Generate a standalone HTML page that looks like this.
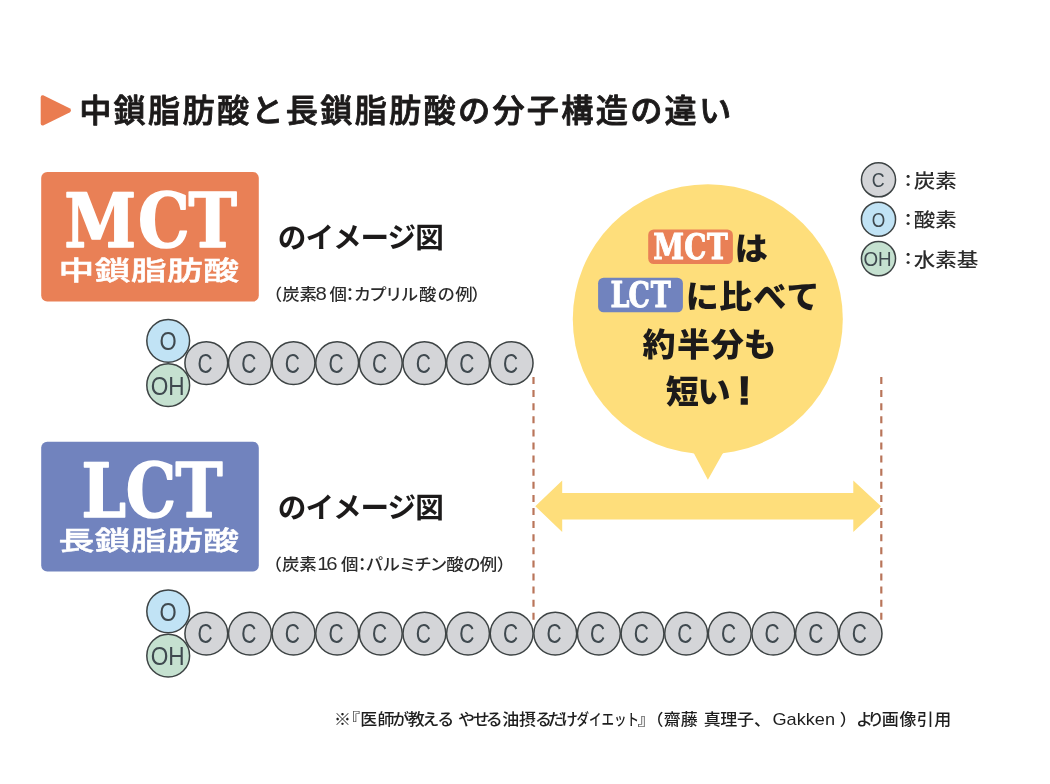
<!DOCTYPE html>
<html lang="ja">
<head>
<meta charset="utf-8">
<title>中鎖脂肪酸と長鎖脂肪酸の分子構造の違い</title>
<style>
html,body{margin:0;padding:0;background:#fff;}
body{width:1050px;height:784px;overflow:hidden;}
svg{display:block;will-change:transform;}
text{font-family:"Liberation Sans","Noto Sans CJK JP",sans-serif;fill:#1c1a1a;}
.ser{font-family:"DejaVu Serif","Liberation Serif",serif;font-weight:bold;fill:#fff;stroke:#fff;stroke-width:1.6px;stroke-linejoin:round;}
.b{font-weight:bold;}
.m{font-weight:500;stroke:#fff;stroke-width:0.5px;}
.sb{font-weight:500;stroke:#1c1a1a;stroke-width:0.85px;stroke-linejoin:round;}
.k{font-weight:900;}
.w{fill:#fff;}
.dg{font-size:19px;font-weight:400;}
.cap{font-feature-settings:"halt";fill:#2b2b2b;font-weight:500;}
.atom{stroke:#3d4344;stroke-width:1.5;}
.c{fill:#d4d5d8;}
.o{fill:#c1e3f5;}
.oh{fill:#c5e1d0;}
.al{fill:#3f494f;}
.leg{fill:#2b2b2b;font-feature-settings:"halt";font-weight:500;}
.foot{fill:#1e1e1e;font-weight:500;}
</style>
</head>
<body>
<svg width="1050" height="784" viewBox="0 0 1050 784">
<rect width="1050" height="784" fill="#fff"/>

<!-- title -->
<path d="M43.2 95.3 L69.6 108.2 Q72.4 110.3 69.6 112.5 L43.2 125.5 Q40.7 126.1 40.7 123.2 L40.7 97.6 Q40.7 94.7 43.2 95.3Z" fill="#ea7c50"/>
<text x="79.20" y="122.10" font-size="32.2" class="sb" letter-spacing="2.25">中鎖脂肪酸と長鎖脂肪酸の分子構造の違い</text>
<!-- bubble -->
<circle cx="707.8" cy="319.2" r="135" fill="#fede7b"/>
<path d="M690 450 L694 453.5 L707.9 479.7 L722.4 454 L726 450 Z" fill="#fede7b"/>
<path d="M535.3 506.2 L562.2 480.4 L562.2 492.9 L853.3 492.9 L853.3 480.4 L881 506.2 L853.3 532 L853.3 519.6 L562.2 519.6 L562.2 532 Z" fill="#fede7b"/>
<line x1="533.5" y1="377" x2="533.5" y2="619.8" stroke="#b9755a" stroke-width="2.2" stroke-dasharray="7 6.1"/>
<line x1="881.3" y1="377" x2="881.3" y2="619.8" stroke="#b9755a" stroke-width="2.2" stroke-dasharray="7 6.1"/>
<rect x="648.2" y="229.5" width="84.7" height="34.5" rx="5.5" fill="#e98056"/>
<text transform="translate(653.30 258.60) scale(0.8055 1)" font-size="34.6" class="ser" style="stroke-width:1px" dx="0 0 1">MCT</text>
<text x="706.6" y="260.40" font-size="31.8" transform="scale(1.04 1)" class="k">は</text>
<rect x="598.1" y="277.7" width="84.8" height="34.6" rx="5.5" fill="#7183be"/>
<text transform="translate(610.60 306.60) scale(0.7785 1)" font-size="34.6" class="ser" style="stroke-width:1px" dx="0 -1.33 0.89">LCT</text>
<text x="659.4 691.4 724.3 756.3" y="308.20" font-size="31.8" transform="scale(1.04 1)" class="k">に比べて</text>
<text x="617.7 651.0 683.5 714.9" y="355.60" font-size="31.8" transform="scale(1.04 1)" class="k">約半分も</text>
<text x="640.2 670.7" y="402.60" font-size="31.8" transform="scale(1.04 1)" class="k">短い<tspan x="709.2" y="404" font-size="39.5" stroke="#1c1a1a" stroke-width="1.3">!</tspan></text>
<!-- legend -->
<circle class="atom c" cx="878.5" cy="179.8" r="17.05"/>
<text transform="translate(878.20 187.40) scale(0.8550 1)" font-size="20.9" class="al" text-anchor="middle">C</text>
<text class="leg" transform="translate(903.8 179.8) scale(1.135 1)"><tspan x="-0.5" y="6.8" font-size="17.4">：</tspan><tspan x="8.7" y="8.1" font-size="19">炭素</tspan></text>
<circle class="atom o" cx="878.5" cy="219.2" r="17.05"/>
<text transform="translate(878.40 226.80) scale(0.8300 1)" font-size="20.9" class="al" text-anchor="middle">O</text>
<text class="leg" transform="translate(903.8 219.2) scale(1.135 1)"><tspan x="-0.5" y="6.8" font-size="17.4">：</tspan><tspan x="8.7" y="8.1" font-size="19">酸素</tspan></text>
<circle class="atom oh" cx="878.5" cy="258.6" r="17.05"/>
<text transform="translate(877.60 266.20) scale(0.9000 1)" font-size="20.9" class="al" text-anchor="middle">OH</text>
<text class="leg" transform="translate(903.8 258.6) scale(1.135 1)"><tspan x="-0.5" y="6.8" font-size="17.4">：</tspan><tspan x="8.7" y="8.1" font-size="19">水素基</tspan></text>
<!-- 中鎖脂肪酸 -->
<rect x="41.2" y="171.9" width="217.6" height="129.7" rx="6" fill="#e98056"/>
<text transform="translate(64.20 246.60) scale(0.8775 1)" font-size="74.1" class="ser" dx="0 2.18 -1.46">MCT</text>
<text transform="translate(58.60 280.30) scale(1.3750 1)" font-size="26" class="m w" letter-spacing="0.3">中鎖脂肪酸</text>
<text x="277.80" y="247.60" font-size="28.6" class="b" letter-spacing="-1.0">のイメージ図</text>
<text x="255.6 263.8 279.8 295.5 307.9 322.9 330.7 345.0 359.8 374.6 391.6 409.0 425.4 440.4" y="300.20" font-size="16.3" transform="scale(1.07 1)" class="cap">（炭素<tspan class="dg" dx="-0.6">8</tspan>個：カプリル酸の例）</text>
<circle class="atom o" cx="168.20" cy="340.80" r="21.4"/>
<circle class="atom oh" cx="168.20" cy="385.20" r="21.4"/>
<circle class="atom c" cx="206.30" cy="363.10" r="21.4"/>
<circle class="atom c" cx="249.92" cy="363.10" r="21.4"/>
<circle class="atom c" cx="293.54" cy="363.10" r="21.4"/>
<circle class="atom c" cx="337.16" cy="363.10" r="21.4"/>
<circle class="atom c" cx="380.78" cy="363.10" r="21.4"/>
<circle class="atom c" cx="424.40" cy="363.10" r="21.4"/>
<circle class="atom c" cx="468.02" cy="363.10" r="21.4"/>
<circle class="atom c" cx="511.64" cy="363.10" r="21.4"/>
<text transform="translate(168.20 350.20) scale(0.8500 1)" font-size="26" class="al" text-anchor="middle">O</text>
<text transform="translate(167.70 394.60) scale(0.8700 1)" font-size="26" class="al" text-anchor="middle">OH</text>
<text transform="translate(205.10 372.70) scale(0.7700 1)" font-size="27.2" class="al" text-anchor="middle">C</text>
<text transform="translate(248.72 372.70) scale(0.7700 1)" font-size="27.2" class="al" text-anchor="middle">C</text>
<text transform="translate(292.34 372.70) scale(0.7700 1)" font-size="27.2" class="al" text-anchor="middle">C</text>
<text transform="translate(335.96 372.70) scale(0.7700 1)" font-size="27.2" class="al" text-anchor="middle">C</text>
<text transform="translate(379.58 372.70) scale(0.7700 1)" font-size="27.2" class="al" text-anchor="middle">C</text>
<text transform="translate(423.20 372.70) scale(0.7700 1)" font-size="27.2" class="al" text-anchor="middle">C</text>
<text transform="translate(466.82 372.70) scale(0.7700 1)" font-size="27.2" class="al" text-anchor="middle">C</text>
<text transform="translate(510.44 372.70) scale(0.7700 1)" font-size="27.2" class="al" text-anchor="middle">C</text>
<!-- 長鎖脂肪酸 -->
<rect x="41.2" y="441.7" width="217.6" height="129.7" rx="6" fill="#7183be"/>
<text transform="translate(81.60 517.20) scale(0.8550 1)" font-size="74.1" class="ser" dx="0 -0.44 -0.67">LCT</text>
<text transform="translate(58.60 550.30) scale(1.3750 1)" font-size="26" class="m w" letter-spacing="0.3">長鎖脂肪酸</text>
<text x="277.80" y="517.60" font-size="28.6" class="b" letter-spacing="-1.0">のイメージ図</text>
<text x="255.4 263.5 279.6 294.9 304.5 318.6 334.5 341.9 357.6 372.8 387.2 401.7 417.1 432.9 448.3 464.3" y="570.40" font-size="16.3" transform="scale(1.07 1)" class="cap">（炭素<tspan class="dg" dx="1.6 0.5">16</tspan>個：パルミチン酸の例）</text>
<circle class="atom o" cx="168.20" cy="611.30" r="21.4"/>
<circle class="atom oh" cx="168.20" cy="655.70" r="21.4"/>
<circle class="atom c" cx="206.30" cy="633.60" r="21.4"/>
<circle class="atom c" cx="249.92" cy="633.60" r="21.4"/>
<circle class="atom c" cx="293.54" cy="633.60" r="21.4"/>
<circle class="atom c" cx="337.16" cy="633.60" r="21.4"/>
<circle class="atom c" cx="380.78" cy="633.60" r="21.4"/>
<circle class="atom c" cx="424.40" cy="633.60" r="21.4"/>
<circle class="atom c" cx="468.02" cy="633.60" r="21.4"/>
<circle class="atom c" cx="511.64" cy="633.60" r="21.4"/>
<circle class="atom c" cx="555.26" cy="633.60" r="21.4"/>
<circle class="atom c" cx="598.88" cy="633.60" r="21.4"/>
<circle class="atom c" cx="642.50" cy="633.60" r="21.4"/>
<circle class="atom c" cx="686.12" cy="633.60" r="21.4"/>
<circle class="atom c" cx="729.74" cy="633.60" r="21.4"/>
<circle class="atom c" cx="773.36" cy="633.60" r="21.4"/>
<circle class="atom c" cx="816.98" cy="633.60" r="21.4"/>
<circle class="atom c" cx="860.60" cy="633.60" r="21.4"/>
<text transform="translate(168.20 620.70) scale(0.8500 1)" font-size="26" class="al" text-anchor="middle">O</text>
<text transform="translate(167.70 665.10) scale(0.8700 1)" font-size="26" class="al" text-anchor="middle">OH</text>
<text transform="translate(205.10 643.20) scale(0.7700 1)" font-size="27.2" class="al" text-anchor="middle">C</text>
<text transform="translate(248.72 643.20) scale(0.7700 1)" font-size="27.2" class="al" text-anchor="middle">C</text>
<text transform="translate(292.34 643.20) scale(0.7700 1)" font-size="27.2" class="al" text-anchor="middle">C</text>
<text transform="translate(335.96 643.20) scale(0.7700 1)" font-size="27.2" class="al" text-anchor="middle">C</text>
<text transform="translate(379.58 643.20) scale(0.7700 1)" font-size="27.2" class="al" text-anchor="middle">C</text>
<text transform="translate(423.20 643.20) scale(0.7700 1)" font-size="27.2" class="al" text-anchor="middle">C</text>
<text transform="translate(466.82 643.20) scale(0.7700 1)" font-size="27.2" class="al" text-anchor="middle">C</text>
<text transform="translate(510.44 643.20) scale(0.7700 1)" font-size="27.2" class="al" text-anchor="middle">C</text>
<text transform="translate(554.06 643.20) scale(0.7700 1)" font-size="27.2" class="al" text-anchor="middle">C</text>
<text transform="translate(597.68 643.20) scale(0.7700 1)" font-size="27.2" class="al" text-anchor="middle">C</text>
<text transform="translate(641.30 643.20) scale(0.7700 1)" font-size="27.2" class="al" text-anchor="middle">C</text>
<text transform="translate(684.92 643.20) scale(0.7700 1)" font-size="27.2" class="al" text-anchor="middle">C</text>
<text transform="translate(728.54 643.20) scale(0.7700 1)" font-size="27.2" class="al" text-anchor="middle">C</text>
<text transform="translate(772.16 643.20) scale(0.7700 1)" font-size="27.2" class="al" text-anchor="middle">C</text>
<text transform="translate(815.78 643.20) scale(0.7700 1)" font-size="27.2" class="al" text-anchor="middle">C</text>
<text transform="translate(859.40 643.20) scale(0.7700 1)" font-size="27.2" class="al" text-anchor="middle">C</text>
<!-- footer -->
<text y="724.6" font-size="15.9" class="foot" transform="scale(1.07 1)"><tspan x="312.2 320.5 336.8 352.9 366.7 381.0 394.6 408.6 422.9 428.1 441.9 454.1 469.4 485.1 500.0 512.0 524.3">※『医師が教える やせる油摂るだけ</tspan><tspan x="538.8" textLength="58.5" lengthAdjust="spacingAndGlyphs">ダイエット</tspan><tspan x="596.0 604.2 620.4 636.3 650.6 657.7 673.1 688.7 704.6">』（齋藤 真理子、</tspan><tspan x="721.9" textLength="58.5" lengthAdjust="spacingAndGlyphs" font-size="16.6">Gakken</tspan><tspan x="780.4 784.7 800.1 810.6 824.1 840.6 856.7 873.2"> ）より画像引用</tspan></text>
</svg>
</body>
</html>
